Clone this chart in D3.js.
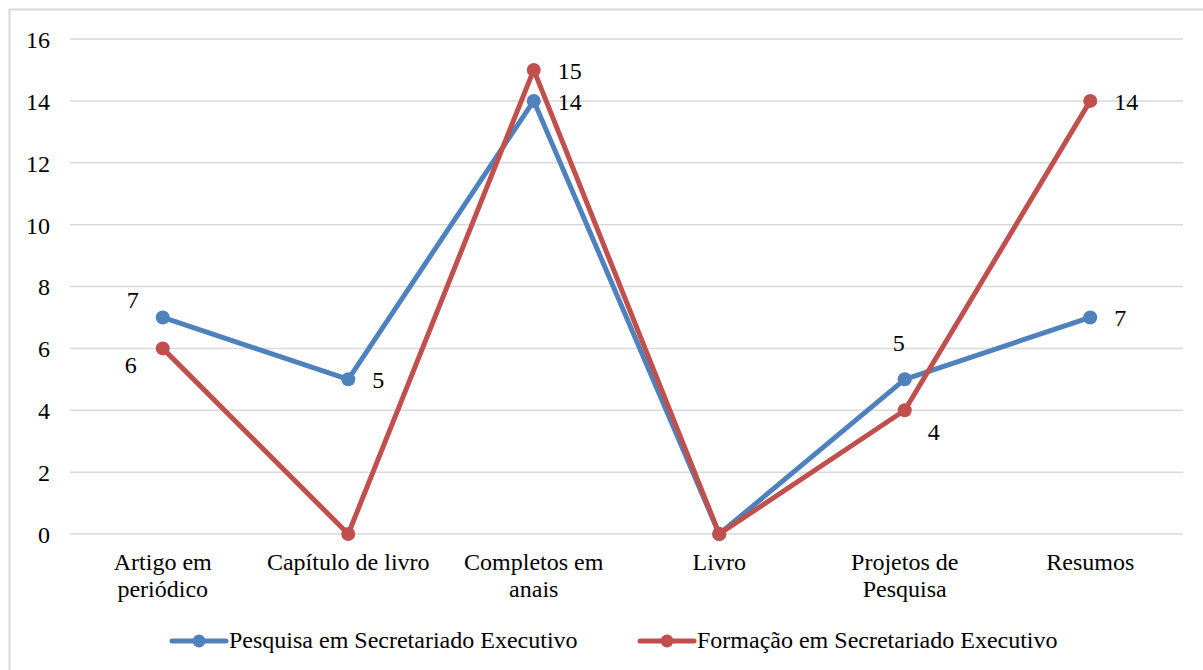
<!DOCTYPE html>
<html>
<head>
<meta charset="utf-8">
<script src="https://cdn.jsdelivr.net/npm/d3@7"></script>
<style>
  html, body { margin: 0; padding: 0; background: #fff; }
  svg { display: block; }
  svg text { font-family: "Liberation Serif", "Times New Roman", serif; }
</style>
</head>
<body>
<svg id="chart" width="1203" height="670"></svg>
<script>
// Publication types
const categories = [
  ["Artigo em", "periódico"],
  ["Capítulo de livro"],
  ["Completos em", "anais"],
  ["Livro"],
  ["Projetos de", "Pesquisa"],
  ["Resumos"]
];
const seriesNames = ["Pesquisa em Secretariado Executivo", "Formação em Secretariado Executivo"];
const pesquisa = [7, 5, 14, 0, 5, 7];
const formacao = [6, 0, 15, 0, 4, 14];
const yTicks = [0, 2, 4, 6, 8, 10, 12, 14, 16];
// where each value label sits relative to its point (null = no label)
const pesquisaLabelSide = ["above-left", "right", "right", null, "above", "right"];
const formacaoLabelSide = ["below-left", null, "right", null, "below-right", "right"];

const colors = ["#4F81BD", "#C0504D"];
const FONT = "Liberation Serif, Times New Roman, serif";
const FS = 24;
const svg = d3.select("#chart");

// outer frame
svg.append("rect")
  .attr("x", 9.5).attr("y", 9.5).attr("width", 1200).attr("height", 680)
  .attr("fill", "none").attr("stroke", "#d9d9d9").attr("stroke-width", 2);

const plot = { left: 70, right: 1183, top: 39, bottom: 534 };
const x = d3.scaleBand().domain(d3.range(categories.length)).range([plot.left, plot.right]);
const y = d3.scaleLinear().domain([0, 16]).range([plot.bottom, plot.top]);
const cx = i => x(i) + x.bandwidth() / 2;

// gridlines
svg.append("g").selectAll("line").data(yTicks).join("line")
  .attr("x1", plot.left).attr("x2", plot.right)
  .attr("y1", d => y(d)).attr("y2", d => y(d))
  .attr("stroke", "#d9d9d9").attr("stroke-width", 1.5);

// y axis labels
const yAxis = svg.append("g").attr("transform", `translate(${plot.left - 20},0)`)
  .call(d3.axisLeft(y).tickValues(yTicks).tickSize(0).tickPadding(0));
yAxis.attr("font-family", FONT).attr("font-size", FS);
yAxis.select(".domain").remove();
yAxis.selectAll("text").attr("fill", "#000").attr("dy", "0.35em");

// x axis labels
const xl = svg.append("g").attr("font-family", FONT).attr("font-size", FS);
categories.forEach((lines, i) => {
  const t = xl.append("text").attr("x", cx(i)).attr("y", 570)
    .attr("text-anchor", "middle").attr("fill", "#000");
  lines.forEach((ln, j) => t.append("tspan").attr("x", cx(i)).attr("dy", j === 0 ? 0 : 27).text(ln));
});

const line = d3.line().x((d, i) => cx(i)).y(d => y(d));
const seriesData = [pesquisa, formacao];
const labelSides = [pesquisaLabelSide, formacaoLabelSide];

seriesData.forEach((vals, s) => {
  const g = svg.append("g");
  g.append("path").datum(vals).attr("d", line)
    .attr("fill", "none").attr("stroke", colors[s]).attr("stroke-width", 5)
    .attr("stroke-linejoin", "round").attr("stroke-linecap", "round");
  g.selectAll("circle").data(vals).join("circle")
    .attr("cx", (d, i) => cx(i)).attr("cy", d => y(d)).attr("r", 7)
    .attr("fill", colors[s]);
});

// value labels
const offsets = {
  "right": [24, 9, "start"],
  "above-left": [-24, -9, "end"],
  "below-left": [-26, 25, "end"],
  "above": [-6, -28, "middle"],
  "below-right": [29, 30, "middle"]
};
const vl = svg.append("g").attr("font-family", FONT).attr("font-size", FS);
seriesData.forEach((vals, s) => {
  vals.forEach((v, i) => {
    const side = labelSides[s][i];
    if (!side) return;
    const [dx, dy, anchor] = offsets[side];
    vl.append("text").attr("x", cx(i) + dx).attr("y", y(v) + dy)
      .attr("text-anchor", anchor).attr("fill", "#000")
      .text(v);
  });
});

// legend
const legendItems = [
  { x0: 172, x1: 226, tx: 229 },
  { x0: 640, x1: 694, tx: 697 }
];
legendItems.forEach((it, s) => {
  const g = svg.append("g");
  g.append("line").attr("x1", it.x0).attr("x2", it.x1).attr("y1", 641).attr("y2", 641)
    .attr("stroke", colors[s]).attr("stroke-width", 5).attr("stroke-linecap", "round");
  g.append("circle").attr("cx", (it.x0 + it.x1) / 2).attr("cy", 641).attr("r", 6.5).attr("fill", colors[s]);
  g.append("text").attr("x", it.tx).attr("y", 648)
    .attr("font-family", FONT).attr("font-size", FS).attr("fill", "#000")
    .text(seriesNames[s]);
});
</script>
</body>
</html>
